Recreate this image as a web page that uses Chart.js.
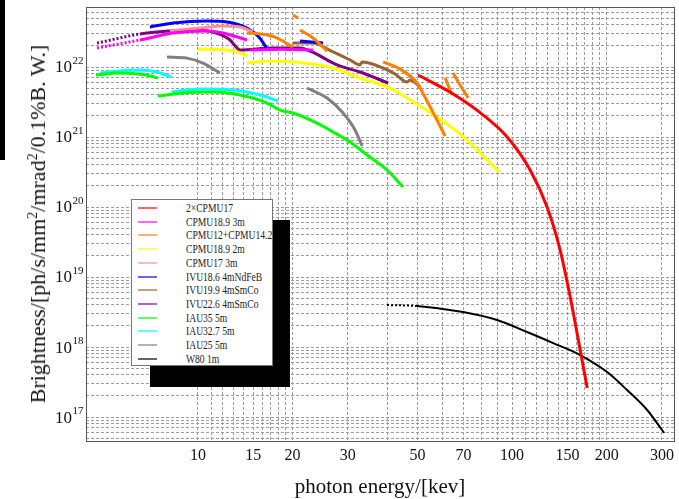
<!DOCTYPE html>
<html lang="en">
<head>
<meta charset="UTF-8">
<title>Brightness vs photon energy</title>
<script src="https://cdn.jsdelivr.net/npm/chart.js@4/dist/chart.umd.min.js"></script>
<style>
    body { margin: 0; background: #fff; font-family: "Liberation Serif", "DejaVu Serif", serif; color: #111; }
    #wrap { position: relative; width: 679px; height: 499px; overflow: hidden; }
    #edge { position: absolute; left: 0; top: 0; width: 5px; height: 160px; background: #000; }
    #ytitle {
        position: absolute; left: 38px; top: 224px;
        transform: translate(-50%, -50%) rotate(-90deg);
        white-space: nowrap; font-size: 22px;
    }
    #ytitle sup { font-size: 14px; line-height: 0; }
    #xtitle {
        position: absolute; left: 380px; top: 486px;
        transform: translate(-50%, -50%);
        white-space: nowrap; font-size: 21px;
    }
    #shadow { position: absolute; left: 150px; top: 220px; width: 140px; height: 167px; background: #000; }
    #legend {
        position: absolute; left: 131px; top: 199px; width: 142px; height: 167px;
        box-sizing: border-box; border: 1px solid #777; background: #fff;
    }
    .row { position: absolute; left: 0; height: 14px; width: 140px; }
    .row span.sw { position: absolute; left: 6px; top: 6px; width: 19px; height: 2px; }
    .row span.tx {
        position: absolute; left: 54px; top: 0; font-size: 12px; line-height: 14px;
        white-space: nowrap; color: #222; transform: scaleX(0.8); transform-origin: left center;
    }
</style>
</head>
<body>
<div id="wrap">
    <canvas id="chart" width="679" height="499"></canvas>
    <div id="edge"></div>
    <div id="ytitle">Brightness/[ph/s/mm<sup>2</sup>/mrad<sup>2</sup>/0.1%B. W.]</div>
    <div id="xtitle">photon energy/[kev]</div>
    <div id="shadow"></div>
    <div id="legend"></div>
</div>
<script>
// series names and colours (legend order)
const seriesNames = ['2×CPMU17', 'CPMU18.9 3m', 'CPMU12+CPMU14.2', 'CPMU18.9 2m', 'CPMU17 3m',
    'IVU18.6 4mNdFeB', 'IVU19.9 4mSmCo', 'IVU22.6 4mSmCo', 'IAU35 5m', 'IAU32.7 5m', 'IAU25 5m', 'W80 1m'];
const seriesColors = ['#ff0000', '#ff00ff', '#ff8000', '#ffff00', '#ff8f8f',
    '#0000ff', '#9a6432', '#800080', '#00ff00', '#00ffff', '#808080', '#000000'];

// energies (keV) and brightness, null = gap between harmonics
const cpmu17x2E = [50.2, 64.9, 80.9, 96.4, 114.1, 129.2, 142.2, 153.1, 164.7, 173.4];
const cpmu17x2B = [7.69e21, 4.11e21, 2.06e21, 1.0e21, 3.38e20, 1.0e20, 2.43e19, 5.18e18, 9.06e17, 2.6e17];

const cpmu189_3E = [4.77, 6.53, 8.33, 10.68, 12.01, 14.32, null, 14.64, 18.25, 23.23];
const cpmu189_3B = [1.87e22, 2.43e22, 3.06e22, 3.27e22, 3.06e22, 2.43e22, null, 1.75e22, 1.8e22, 1.75e22];

const cpmu12E = [14.32, 15.76, 17.58, 20.07, null, 20.07, 20.82, null, 21.13, 23.23, 25.76, null,
    38.83, 43.97, 49.78, 53.6, 57.65, 61.2, null, 61.2, 64.4, null, 64.86, 68.3, 72.44];
const cpmu12B = [3.06e22, 2.96e22, 2.68e22, 1.93e22, null, 5.53e22, 5.01e22, null, 3.38e22, 2.6e22, 1.69e22, null,
    1.18e22, 9.36e21, 5.91e21, 3.27e21, 1.75e21, 1.03e21, null, 6.97e21, 3.98e21, null, 8.21e21, 5.53e21, 3.61e21];

const cpmu189_2E = [10, 12.92, 14.43, null, 14.32, 16.96, 20.07, 26.92, 32.81, 40.84, 46.31, 57.65, 71.9, 90.9];
const cpmu189_2B = [1.81e22, 1.69e22, 1.44e22, null, 1.14e22, 1.22e22, 1.18e22, 9.68e21, 6.97e21, 5.01e21, 3.61e21, 1.93e21, 9.06e20, 3.16e20];

const cpmu17_3E = [8.14, 10.15, 12.01, 13.61, 14.96];
const cpmu17_3B = [3.27e22, 3.61e22, 3.85e22, 3.73e22, 3.16e22];

const ivu186E = [7.03, 8.33, 10.68, 12.37, 14.32, 15.52, 16.71, null, 21.13, 25.01];
const ivu186B = [3.73e22, 4.25e22, 4.54e22, 4.39e22, 3.61e22, 2.77e22, 1.75e22, null, 2.35e22, 2.2e22];

const ivu199E = [20.07, 23.23, 26.92, 30.48, 32.81, 33.29, 38.83, 42.4, 46.31, 47.34, 50.93];
const ivu199B = [2.2e22, 2.2e22, 1.64e22, 1.26e22, 1.07e22, 1.18e22, 9.68e21, 7.94e21, 6.11e21, 6.52e21, 5.18e21];

const ivu226E = [4.77, 6.53, 8.14, 9.43, 11.16, 12.65, 13.31, 13.61, 17.34, 21.13, 23.07, 27.72, 32.81, 40.27];
const ivu226B = [2.2e22, 2.96e22, 3.27e22, 3.38e22, 3.16e22, 2.43e22, 1.87e22, 1.75e22, 1.87e22, 1.87e22, 1.64e22, 1.07e22, 8.48e21, 5.91e21];

const iau35E = [4.73, 5.6, 6.83, 7.46, null, 7.46, 8.96, 11.16, 13.61, 16.59, 18.25, 20.07, 23.92, 26.92, 30.48, 34.53, 39.97, 44.96];
const iau35B = [7.69e21, 8.21e21, 7.69e21, 6.97e21, null, 3.85e21, 4.25e21, 4.39e21, 3.98e21, 3.06e21, 2.43e21, 2.2e21, 1.58e21, 1.18e21, 8.48e20, 5.53e20, 3.38e20, 1.93e20];

const iau327E = [4.87, 5.6, 6.53, 7.4, 8.2, null, 8.26, 10.15, 12.92, 15.76, 17.98];
const iau327B = [8.21e21, 8.77e21, 9.06e21, 8.48e21, 7.2e21, null, 4.39e21, 4.85e21, 4.69e21, 3.98e21, 3.27e21];

const iau25E = [7.97, 9.23, 10.37, 11.75, null, 22.24, 25.76, 28.96, 31.62, 33.29];
const iau25B = [1.39e22, 1.34e22, 1.14e22, 8.21e21, null, 5.01e21, 3.61e21, 2.2e21, 1.26e21, 7.44e20];

const w80E = [39.97, 49.78, 69.8, 89.55, 111.6, 135.1, 164.7, 200.7, 232.3, 269.1, 304.9];
const w80B = [3.98e18, 3.85e18, 3.16e18, 2.43e18, 1.64e18, 1.14e18, 7.69e17, 4.39e17, 2.43e17, 1.26e17, 5.91e16];

// axis ticks
const xGridValues = [10, 11, 12, 13, 14, 15, 16, 17, 18, 19, 20, 30, 40, 50, 60, 70, 80, 90, 100,
    110, 120, 130, 140, 150, 160, 170, 180, 190, 200, 300];
const xTickLabels = [10, 15, 20, 30, 50, 70, 100, 150, 200, 300];
const yExponents = [17, 18, 19, 20, 21, 22];

const seriesE = [cpmu17x2E, cpmu189_3E, cpmu12E, cpmu189_2E, cpmu17_3E, ivu186E, ivu199E, ivu226E, iau35E, iau327E, iau25E, w80E];
const seriesB = [cpmu17x2B, cpmu189_3B, cpmu12B, cpmu189_2B, cpmu17_3B, ivu186B, ivu199B, ivu226B, iau35B, iau327B, iau25B, w80B];
// where the start of a curve is dotted (keV), 0 = none
const dottedUntil = [0, 6.6, 0, 0, 0, 0, 0, 6.6, 0, 0, 0, 52];

function toPoints(es, bs) {
    return es.map((e, i) => e === null ? { x: null, y: null } : { x: e, y: bs[i] });
}

const datasets = seriesNames.map((name, i) => ({
    label: name,
    data: toPoints(seriesE[i], seriesB[i]),
    borderColor: seriesColors[i],
    borderWidth: i === 11 ? 2 : 3,
    pointRadius: 0,
    fill: false,
    spanGaps: false,
    cubicInterpolationMode: 'monotone',
    segment: {
        borderDash: ctx => ctx.p1.parsed.x <= dottedUntil[i] ? [2, 2] : undefined
    }
}));

// legend box
const legend = document.getElementById('legend');
seriesNames.forEach((name, i) => {
    const row = document.createElement('div');
    row.className = 'row';
    row.style.top = (1 + i * 13.7) + 'px';
    row.innerHTML = '<span class="sw" style="background:' + seriesColors[i] + ';opacity:0.6"></span>' +
        '<span class="tx">' + name + '</span>';
    legend.appendChild(row);
});

// frame on all sides + 10^n labels
const frameAndLabels = {
    id: 'frameAndLabels',
    afterDraw(chart) {
        const { ctx, chartArea: a } = chart;
        const y = chart.scales.y;
        ctx.save();
        ctx.strokeStyle = '#555';
        ctx.lineWidth = 1;
        ctx.strokeRect(a.left + 0.5, a.top + 0.5, a.right - a.left - 1, a.bottom - a.top - 1);
        ctx.fillStyle = '#111';
        ctx.textBaseline = 'middle';
        yExponents.forEach(n => {
            const py = y.getPixelForValue(Math.pow(10, n));
            ctx.font = '17px "Liberation Serif", serif';
            ctx.textAlign = 'right';
            ctx.fillText('10', 72, py + 1);
            ctx.font = '11px "Liberation Serif", serif';
            ctx.textAlign = 'left';
            ctx.fillText(String(n), 72.5, py - 6);
        });
        ctx.restore();
    }
};

const gridOpts = { color: '#9d9d9d', lineWidth: 1, drawTicks: false };

new Chart(document.getElementById('chart'), {
    type: 'line',
    data: { datasets: datasets },
    options: {
        responsive: false,
        animation: false,
        devicePixelRatio: 1,
        layout: { padding: { left: 0, top: 7, right: 4, bottom: 0 } },
        plugins: { legend: { display: false }, tooltip: { enabled: false } },
        scales: {
            x: {
                type: 'logarithmic',
                min: 4.4,
                max: 330,
                grid: gridOpts,
                border: { display: false, dash: [3, 2] },
                afterBuildTicks: s => { s.ticks = xGridValues.map(v => ({ value: v })); },
                afterFit: s => { s.height = 57; },
                ticks: {
                    autoSkip: false,
                    maxRotation: 0,
                    padding: 4,
                    color: '#111',
                    font: { family: '"Liberation Serif", serif', size: 16 },
                    callback: v => xTickLabels.includes(v) ? String(v) : ''
                }
            },
            y: {
                type: 'logarithmic',
                min: 4.4e16,
                max: 7.2e22,
                grid: gridOpts,
                border: { display: false, dash: [3, 2] },
                afterBuildTicks: s => {
                    const t = [];
                    for (let n = 16; n <= 22; n++) {
                        for (let m = 1; m <= 9; m++) {
                            const v = m * Math.pow(10, n);
                            if (v > 4.4e16 && v < 7.2e22) t.push({ value: v });
                        }
                    }
                    s.ticks = t;
                },
                afterFit: s => { s.width = 86; },
                ticks: { display: false }
            }
        }
    },
    plugins: [frameAndLabels]
});
</script>
</body>
</html>
